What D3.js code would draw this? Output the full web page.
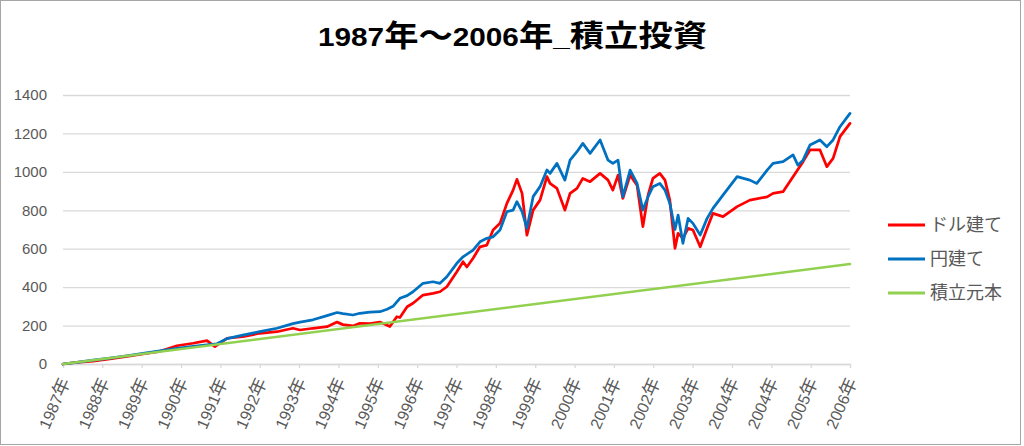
<!DOCTYPE html>
<html><head><meta charset="utf-8">
<script src="https://cdn.jsdelivr.net/npm/d3@7"></script>
<style>
html,body{margin:0;padding:0;background:#fff;}
svg{display:block;}
</style></head><body>
<svg id="chart" width="1024" height="446"></svg>
<script>
const titleText = "1987年～2006年_積立投資";
const xLabels = ["1987年","1988年","1989年","1990年","1991年","1992年","1993年","1994年","1995年","1996年","1997年","1998年","1999年","2000年","2001年","2002年","2003年","2004年","2004年","2005年","2006年"];
const yTicks = [0,200,400,600,800,1000,1200,1400];
const seriesNames = ["ドル建て","円建て","積立元本"];
const monthSpan = [0, 228];

// [month index, value]
const dollarSeries = [[0,0],[4,8],[8.7,15],[13.6,26],[18.5,40],[23.2,52],[28.1,66],[33,95],[37.7,108],[41.7,122],[44,90],[47.5,134],[52.1,142],[57,160],[62,168],[66.6,186],[68.7,177],[72.4,186],[76.5,194],[79.4,218],[81.1,205],[84,198],[86,212],[88.9,210],[91.8,218],[94.7,195],[96.7,246],[97.6,242],[99.7,298],[101.4,316],[104.3,359],[107.2,368],[109.2,376],[111.2,402],[114.1,480],[115.9,532],[117,505],[118.8,550],[120.8,610],[122.8,619],[124.6,697],[126.6,732],[128.6,836],[130.4,905],[131.5,961],[133,888],[134.4,671],[136.2,801],[138.2,853],[140.2,975],[141.1,940],[143.1,914],[145.4,801],[146.9,888],[148.9,914],[150.6,966],[152.7,949],[155.6,992],[157.9,957],[159.3,905],[160.8,983],[162.2,862],[164.3,983],[166.3,931],[168,715],[169.5,879],[170.9,966],[172.9,992],[174.4,957],[175.8,853],[177.3,602],[178.2,680],[179.6,654],[181.1,706],[182.5,697],[184.6,610],[186.6,706],[188.3,784],[191.2,767],[195.3,819],[199,853],[204,870],[205.7,888],[208.6,897],[211.5,975],[214.4,1053],[216.4,1114],[219.3,1114],[221.3,1027],[223.1,1070],[225.1,1183],[228,1252]];
const yenSeries = [[0,0],[4,9],[8.7,20],[13.6,31],[18.5,43],[23.2,55],[28.1,68],[33,82],[37.7,92],[41.7,100],[44.6,105],[47.5,132],[52.1,150],[57,168],[62,186],[66.6,210],[68.7,218],[72.4,230],[76.5,252],[79.4,268],[81.1,262],[84,255],[86,264],[88.9,270],[91.8,272],[93.9,285],[95.6,300],[97.6,342],[99.7,356],[101.4,376],[104.3,420],[107.2,428],[109.2,420],[111.2,454],[114.1,524],[115.9,558],[118.8,593],[120.8,636],[122.8,654],[124.6,662],[126.6,697],[128.6,793],[130.4,801],[131.5,845],[133,793],[134.4,706],[136.2,871],[138.2,923],[140.2,1010],[141.1,992],[143.1,1044],[145.4,957],[146.9,1061],[148.9,1105],[150.6,1148],[152.7,1096],[155.6,1166],[157.9,1061],[159.3,1044],[160.8,1061],[162.2,871],[164.3,1009],[166.3,940],[168,801],[169.5,871],[170.9,923],[172.9,940],[174.4,905],[175.8,836],[177.3,700],[178.2,775],[179.6,628],[181.1,758],[182.5,732],[184.6,671],[186.6,758],[188.3,810],[191.2,879],[195.3,975],[199,957],[201,940],[204,1009],[205.7,1044],[208.6,1053],[211.5,1088],[212.9,1035],[214.4,1061],[216.4,1140],[219.3,1166],[221.3,1131],[223.1,1166],[225.1,1235],[228,1304]];
const principalSeries = [[0,0],[228,520]];

const colors = ["#ff0000","#0070c0","#92d050"];
const widths = [2.75,2.75,2.5];
const allSeries = [dollarSeries, yenSeries, principalSeries];

const svg = d3.select("#chart");
const L = 63, R = 850, T = 95, B = 364;
const latin = "'Liberation Sans', 'Noto Sans CJK JP', sans-serif";
const cjk = "'Noto Sans CJK JP', sans-serif";

svg.append("rect").attr("x",0.5).attr("y",0.5).attr("width",1020).attr("height",444)
  .attr("fill","#fff").attr("stroke","#a6a6a6").attr("stroke-width",1);

const x = d3.scaleLinear().domain(monthSpan).range([L,R]);
const y = d3.scaleLinear().domain([0, d3.max(yTicks)]).range([B,T]);
const xb = d3.scalePoint().domain(d3.range(xLabels.length)).range([L,R]);

// gridlines
svg.append("g").attr("transform",`translate(${L},0)`)
  .call(d3.axisLeft(y).tickValues(yTicks).tickSize(-(R-L)).tickFormat(""))
  .call(g=>g.select(".domain").remove())
  .call(g=>g.selectAll("line").attr("stroke","#d9d9d9").attr("stroke-width",1.3));

// y labels
svg.append("g").attr("transform",`translate(${L},0)`)
  .call(d3.axisLeft(y).tickValues(yTicks).tickSize(0).tickPadding(16).tickFormat(d3.format("d")))
  .call(g=>g.select(".domain").remove())
  .call(g=>g.selectAll("text").attr("fill","#595959").style("font-family",latin).style("font-size","15px"));

// x axis
const xg = svg.append("g").attr("transform",`translate(0,${B})`)
  .call(d3.axisBottom(xb).tickSize(4).tickFormat(i=>xLabels[i]));
xg.select(".domain").attr("stroke","#d9d9d9").attr("stroke-width",1.3);
xg.selectAll("line").attr("stroke","#d9d9d9").attr("stroke-width",1.3);
xg.selectAll("text").each(function(i){
  const t = d3.select(this);
  const s = xLabels[i];
  t.text(null).attr("x",0).attr("y",0).attr("dy","0.35em")
   .attr("text-anchor","end").attr("fill","#595959")
   .attr("transform","translate(2,15) rotate(-66)")
   .style("font-family",latin).style("font-size","16px");
  t.append("tspan").text(s.slice(0,-1));
  t.append("tspan").style("font-family",cjk).style("font-size","18px").text(s.slice(-1));
});

// lines
const line = d3.line().x(d=>x(d[0])).y(d=>y(d[1]));
allSeries.forEach((s,i)=>{
  svg.append("path").datum(s).attr("d",line).attr("fill","none")
    .attr("stroke",colors[i]).attr("stroke-width",widths[i])
    .attr("stroke-linejoin","round").attr("stroke-linecap","round");
});

// title
const title = svg.append("text").attr("x",512.5).attr("y",46).attr("text-anchor","middle")
  .attr("font-weight","bold").attr("fill","#000")
  .attr("textLength",389).attr("lengthAdjust","spacingAndGlyphs");
titleText.match(/[0-9_]+|[^0-9_]+/g).forEach(run=>{
  const isLatin = /^[0-9_]+$/.test(run);
  title.append("tspan").text(run)
    .style("font-family", isLatin ? latin : cjk)
    .style("font-size", isLatin ? "26px" : "30px");
});

// legend
seriesNames.forEach((n,i)=>{
  const ly = 225 + i*34;
  svg.append("line").attr("x1",888).attr("x2",925).attr("y1",ly).attr("y2",ly)
    .attr("stroke",colors[i]).attr("stroke-width",3);
  svg.append("text").attr("x",930).attr("y",ly).attr("dy","0.36em")
    .attr("fill","#595959").style("font-family",cjk).style("font-size","18px").text(n);
});
</script>
</body></html>
